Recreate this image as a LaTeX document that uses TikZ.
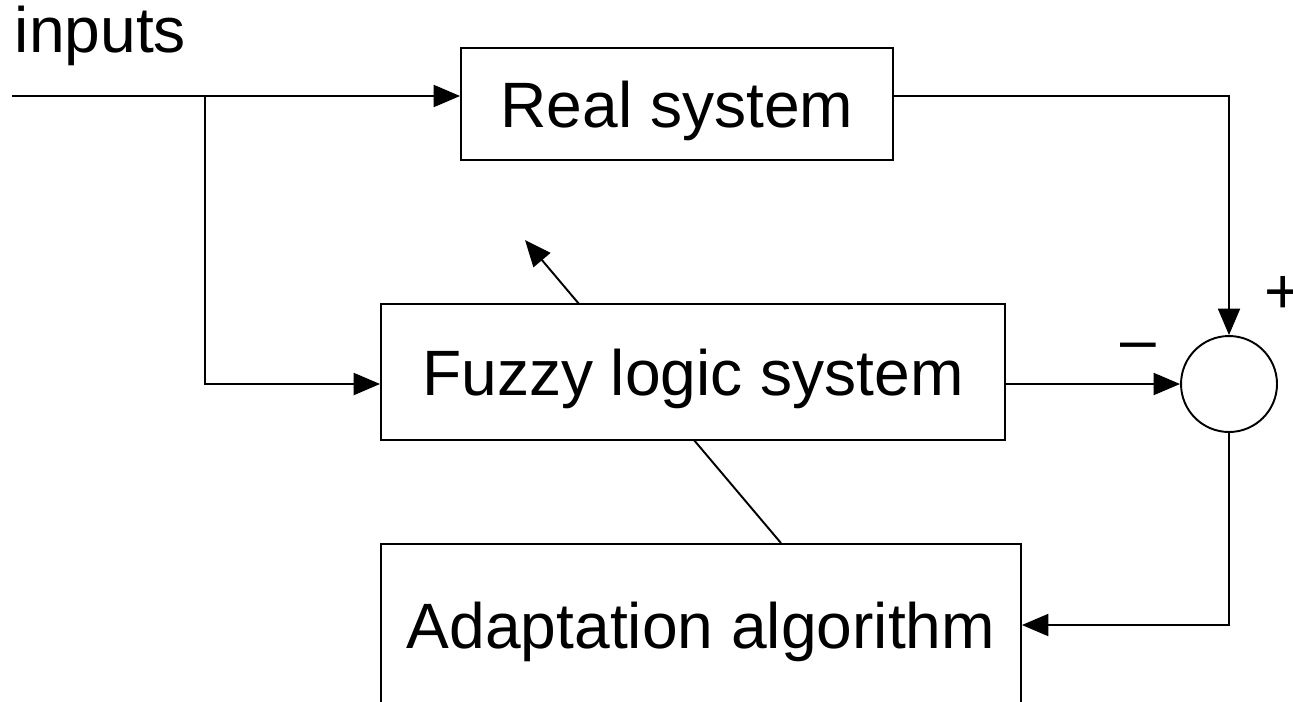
\documentclass[tikz,border=0pt]{standalone}
\usepackage{fontspec}
\setmainfont{Liberation Sans}
\usetikzlibrary{arrows.meta,backgrounds}

\begin{document}
\begin{tikzpicture}[x=0.02cm, y=-0.02cm, line width=1.1pt,
    >={Triangle[length=15pt, width=12.5pt]},
    every node/.style={font=\fontsize{36.5pt}{44pt}\selectfont},
    block/.style={draw, fill=white, inner sep=0pt, text height=0.92cm, text depth=0pt},
    summer/.style={draw, fill=white, circle, inner sep=0pt, minimum size=1.92cm}]
    \useasboundingbox (0,0) rectangle (1293,701);

    \node[anchor=base west, inner sep=0pt] (lbl) at (14,52) {inputs};

    \node[block, minimum width=8.64cm, minimum height=2.24cm] (real) at (677,104) {Real system};
    \node[block, minimum width=12.48cm, minimum height=2.72cm] (fuzzy) at (693,372) {Fuzzy logic system};
    \node[block, minimum width=12.8cm, minimum height=3.24cm] (adapt) at (701,625) {Adaptation algorithm};
    \node[summer] (sum) at (1229,384) {};

    \coordinate (in) at (12,96);
    \coordinate (split) at (205,96);
    \coordinate (tune) at (525,240);

    \draw[->] (in) -- (in -| real.west);
    \draw[->] (split) |- (sum -| fuzzy.west);
    \draw[->] (sum -| fuzzy.east) -- (sum.west);
    \draw[->] (in -| real.east) -| (sum.north);
    \draw[->] (sum.south) |- (adapt.east);

    % tuning arrow passes behind the fuzzy block
    \begin{scope}[on background layer]
        \draw[->, line width=1.1pt] ([xshift=1.6cm]adapt.north) -- (tune);
    \end{scope}

    \node[anchor=base, inner sep=0pt] (plus) at (1283,313) {+};
    \node[anchor=base, inner sep=0pt] (minus) at (1138,361) {\textendash};
\end{tikzpicture}
\end{document}
